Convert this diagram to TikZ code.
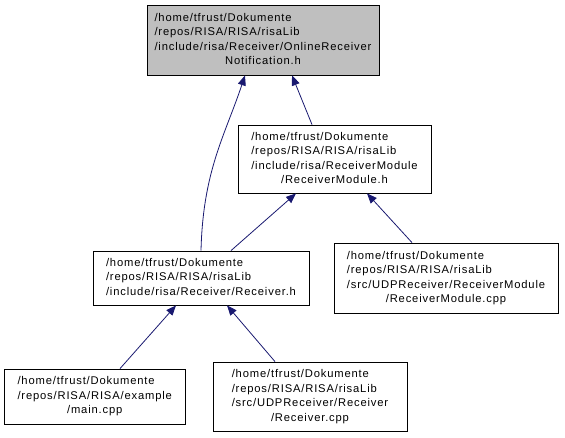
\documentclass[tikz,border=0pt]{standalone}
\usepackage{fontspec}
\newfontfamily\graphfont{Liberation Sans}[LetterSpace=7.5]
\definecolor{edgeBlue}{RGB}{25, 25, 112}
\definecolor{nodeGray}{RGB}{191, 191, 191}
\usepackage{tikz}
\usetikzlibrary{arrows.meta}
\newcommand{\filelabel}[2]{\begin{tabular}{@{}l@{}}#1\\\multicolumn{1}{@{}c@{}}{#2}\end{tabular}}

\begin{document}
\begin{tikzpicture}[
    x=1pt, y=-1pt,
    file/.style={draw=black, line width=0.8pt, inner sep=0pt, font=\graphfont\fontsize{11.2}{14.5}\selectfont},
    dep/.style={draw=edgeBlue, line width=0.8pt, -{Triangle[length=10pt, width=8pt]}},
  ]
    \useasboundingbox (0,0) rectangle (565,437);
    % the file whose includers are shown
    \node[file, fill=nodeGray, minimum width=232pt, minimum height=70pt] (notif) at (263,40)
      {\filelabel{/home/tfrust/Dokumente\\/repos/RISA/RISA/risaLib\\/include/risa/Receiver/OnlineReceiver}{Notification.h}};
    % ReceiverModule.h
    \node[file, minimum width=193pt, minimum height=68pt] (rmh) at (334.5,159)
      {\filelabel{/home/tfrust/Dokumente\\/repos/RISA/RISA/risaLib\\/include/risa/ReceiverModule}{/ReceiverModule.h}};
    % Receiver.h
    \node[file, minimum width=216pt, minimum height=54pt] (rh) at (201,278)
      {\filelabel{/home/tfrust/Dokumente\\/repos/RISA/RISA/risaLib}{/include/risa/Receiver/Receiver.h}};
    % ReceiverModule.cpp
    \node[file, minimum width=224pt, minimum height=70pt] (rmcpp) at (446,278)
      {\filelabel{/home/tfrust/Dokumente\\/repos/RISA/RISA/risaLib\\/src/UDPReceiver/ReceiverModule}{/ReceiverModule.cpp}};
    % main.cpp
    \node[file, minimum width=181pt, minimum height=55pt] (main) at (94.7,396.5)
      {\filelabel{/home/tfrust/Dokumente\\/repos/RISA/RISA/example}{/main.cpp}};
    % Receiver.cpp
    \node[file, minimum width=194pt, minimum height=69pt] (rcpp) at (310,396.5)
      {\filelabel{/home/tfrust/Dokumente\\/repos/RISA/RISA/risaLib\\/src/UDPReceiver/Receiver}{/Receiver.cpp}};
    % include edges
    \draw[dep] (rh.north) .. controls +(2,-80) and +(-20,60) .. ([xshift=-18pt]notif.south);
    \draw[dep] ([xshift=-22.5pt]rmh.north) -- ([xshift=29pt]notif.south);
    \draw[dep] ([xshift=30pt]rh.north) -- ([xshift=-38.5pt]rmh.south);
    \draw[dep] ([xshift=-34pt]rmcpp.north) -- ([xshift=32.5pt]rmh.south);
    \draw[dep] ([xshift=25.3pt]main.north) -- ([xshift=-25pt]rh.south);
    \draw[dep] ([xshift=-35pt]rcpp.north) -- ([xshift=26pt]rh.south);
  \end{tikzpicture}
\end{document}
